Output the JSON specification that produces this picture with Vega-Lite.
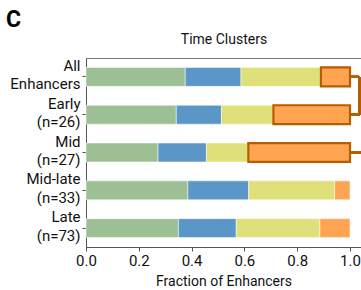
{
  "$schema": "https://vega.github.io/schema/vega-lite/v6.json",
  "width": 275,
  "height": 189,
  "autosize": {"type": "none"},
  "padding": {"left": 86, "top": 58, "right": 0, "bottom": 43},
  "title": {"text": "C", "anchor": "start", "frame": "group", "dx": -80, "offset": 0, "fontSize": 23, "fontWeight": "bold", "font": "Roboto", "color": "#000"},
  "config": {
    "font": "Roboto",
    "view": {"stroke": null},
    "axis": {"labelFont": "Roboto", "titleFont": "Roboto", "labelColor": "#111", "titleColor": "#111", "grid": false}
  },
  "data": {"values": [
    {"group": "All\nEnhancers", "cluster": "c1", "fraction": 0.376},
    {"group": "All\nEnhancers", "cluster": "c2", "fraction": 0.211},
    {"group": "All\nEnhancers", "cluster": "c3", "fraction": 0.303},
    {"group": "All\nEnhancers", "cluster": "c4", "fraction": 0.110},
    {"group": "Early\n(n=26)", "cluster": "c1", "fraction": 0.342},
    {"group": "Early\n(n=26)", "cluster": "c2", "fraction": 0.171},
    {"group": "Early\n(n=26)", "cluster": "c3", "fraction": 0.197},
    {"group": "Early\n(n=26)", "cluster": "c4", "fraction": 0.290},
    {"group": "Mid\n(n=27)", "cluster": "c1", "fraction": 0.273},
    {"group": "Mid\n(n=27)", "cluster": "c2", "fraction": 0.183},
    {"group": "Mid\n(n=27)", "cluster": "c3", "fraction": 0.159},
    {"group": "Mid\n(n=27)", "cluster": "c4", "fraction": 0.385},
    {"group": "Mid-late\n(n=33)", "cluster": "c1", "fraction": 0.386},
    {"group": "Mid-late\n(n=33)", "cluster": "c2", "fraction": 0.230},
    {"group": "Mid-late\n(n=33)", "cluster": "c3", "fraction": 0.326},
    {"group": "Mid-late\n(n=33)", "cluster": "c4", "fraction": 0.058},
    {"group": "Late\n(n=73)", "cluster": "c1", "fraction": 0.350},
    {"group": "Late\n(n=73)", "cluster": "c2", "fraction": 0.219},
    {"group": "Late\n(n=73)", "cluster": "c3", "fraction": 0.317},
    {"group": "Late\n(n=73)", "cluster": "c4", "fraction": 0.114}
  ]},
  "resolve": {"axis": {"x": "independent"}},
  "layer": [
    {
      "mark": {"type": "bar"},
      "encoding": {
        "y": {
          "field": "group", "type": "nominal",
          "sort": ["All\nEnhancers", "Early\n(n=26)", "Mid\n(n=27)", "Mid-late\n(n=33)", "Late\n(n=73)"],
          "scale": {"paddingInner": 0.5, "paddingOuter": 0.25},
          "axis": {"title": null, "labelExpr": "split(datum.label, '\\n')", "labelFontSize": 15, "labelLineHeight": 18.5, "labelPadding": 2, "labelOffset": -11, "tickSize": 4, "tickColor": "#555", "domainColor": "#555", "labelAlign": "right", "labelBaseline": "middle"}
        },
        "x": {
          "field": "fraction", "type": "quantitative", "stack": "zero",
          "scale": {"domain": [0, 1.0417], "nice": false},
          "axis": {"orient": "bottom", "title": "Fraction of Enhancers", "values": [0, 0.2, 0.4, 0.6, 0.8, 1.0], "format": ".1f", "labelFlush": false, "labelFontSize": 15, "titleFontSize": 14, "titleFontWeight": "normal", "tickSize": 4, "labelPadding": 2, "titlePadding": 6, "tickColor": "#555", "domainColor": "#555"}
        },
        "order": {"field": "cluster", "sort": "ascending"},
        "color": {
          "field": "cluster", "type": "nominal", "legend": null,
          "scale": {"domain": ["c1", "c2", "c3", "c4"], "range": ["#9dbf94", "#5a96c7", "#dfe07a", "#ffa552"]}
        },
        "stroke": {
          "condition": {"test": "datum.cluster == 'c4' && (datum.group == 'All\\nEnhancers' || datum.group == 'Early\\n(n=26)' || datum.group == 'Mid\\n(n=27)')", "value": "#b85c00"},
          "value": "#ffffff"
        },
        "strokeWidth": {
          "condition": {"test": "datum.cluster == 'c4' && (datum.group == 'All\\nEnhancers' || datum.group == 'Early\\n(n=26)' || datum.group == 'Mid\\n(n=27)')", "value": 2.2},
          "value": 1
        },
        "strokeOpacity": {
          "condition": {"test": "datum.cluster == 'c4' && (datum.group == 'All\\nEnhancers' || datum.group == 'Early\\n(n=26)' || datum.group == 'Mid\\n(n=27)')", "value": 1},
          "value": 0.5
        }
      }
    },
    {
      "mark": {"type": "rule", "color": "#b85c00", "strokeWidth": 2},
      "encoding": {
        "x": {"datum": 1.004, "type": "quantitative", "axis": {"orient": "top", "title": "Time Clusters", "labels": false, "ticks": false, "domainColor": "#777", "titleFontSize": 14, "titleFontWeight": "normal", "titlePadding": 12}},
        "x2": {"datum": 1.035},
        "y": {"datum": "All\nEnhancers", "type": "nominal", "bandPosition": 0.5}
      }
    },
    {
      "mark": {"type": "rule", "color": "#b85c00", "strokeWidth": 2},
      "encoding": {
        "x": {"datum": 1.004, "type": "quantitative", "axis": null},
        "x2": {"datum": 1.035},
        "y": {"datum": "Early\n(n=26)", "type": "nominal", "bandPosition": 0.5}
      }
    },
    {
      "mark": {"type": "rule", "color": "#b85c00", "strokeWidth": 2},
      "encoding": {
        "x": {"datum": 1.035, "type": "quantitative", "axis": null},
        "y": {"datum": "All\nEnhancers", "type": "nominal", "bandPosition": 0.5},
        "y2": {"datum": "Early\n(n=26)", "bandPosition": 0.5}
      }
    },
    {
      "mark": {"type": "rule", "color": "#b85c00", "strokeWidth": 2},
      "encoding": {
        "x": {"datum": 1.004, "type": "quantitative", "axis": null},
        "x2": {"datum": 1.0417},
        "y": {"datum": "Mid\n(n=27)", "type": "nominal", "bandPosition": 0.5}
      }
    }
  ]
}
